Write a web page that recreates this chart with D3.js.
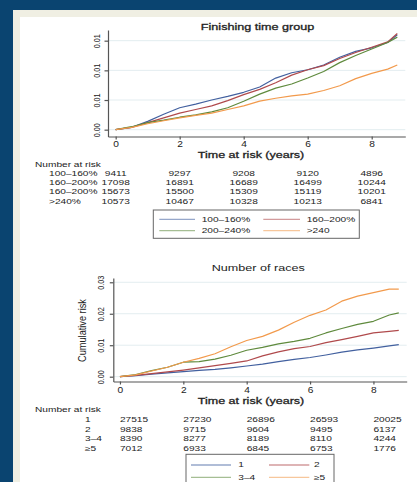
<!DOCTYPE html>
<html>
<head>
<meta charset="utf-8">
<script src="https://cdn.jsdelivr.net/npm/d3@7"></script>
<style>
  html, body { margin: 0; padding: 0; background: #0a4470; }
  svg { display: block; font-family: "Liberation Sans", Arial, sans-serif; }
</style>
</head>
<body>
<svg id="chart"></svg>
<script>
// time points (years) the curves were read at
const years = [0, 0.5, 1, 1.5, 2, 2.5, 3, 3.5, 4, 4.5, 5, 5.5, 6, 6.5, 7, 7.5, 8, 8.5, 8.8];

// Finishing time group, cumulative risk
const finish100 = [0, 0.0004, 0.0014, 0.0026, 0.0037, 0.0043, 0.0050, 0.0056, 0.0063, 0.0072, 0.0087, 0.0096, 0.0101, 0.0109, 0.0122, 0.0132, 0.0138, 0.0147, 0.0160];
const finish160 = [0, 0.0004, 0.0012, 0.0020, 0.0028, 0.0034, 0.0040, 0.0049, 0.0059, 0.0068, 0.0079, 0.0092, 0.0101, 0.0108, 0.0120, 0.0130, 0.0139, 0.0148, 0.0162];
const finish200 = [0, 0.0005, 0.0012, 0.0016, 0.0021, 0.0025, 0.0030, 0.0037, 0.0048, 0.0060, 0.0070, 0.0077, 0.0087, 0.0098, 0.0113, 0.0125, 0.0136, 0.0147, 0.0156];
const finish240 = [0, 0.0004, 0.0010, 0.0015, 0.0020, 0.0024, 0.0028, 0.0034, 0.0040, 0.0048, 0.0053, 0.0057, 0.0060, 0.0066, 0.0074, 0.0086, 0.0095, 0.0102, 0.0109];

// Number of races, cumulative risk
const races1 = [0, 0.0003, 0.0008, 0.0012, 0.0016, 0.0020, 0.0023, 0.0028, 0.0034, 0.0040, 0.0048, 0.0055, 0.0061, 0.0069, 0.0078, 0.0085, 0.0091, 0.0098, 0.0102];
const races2 = [0, 0.0004, 0.0010, 0.0015, 0.0021, 0.0028, 0.0035, 0.0042, 0.0050, 0.0066, 0.0079, 0.0089, 0.0096, 0.0108, 0.0118, 0.0128, 0.0139, 0.0144, 0.0147];
const races34 = [0, 0.0007, 0.0019, 0.0030, 0.0046, 0.0048, 0.0056, 0.0068, 0.0084, 0.0093, 0.0104, 0.0112, 0.0122, 0.0139, 0.0153, 0.0166, 0.0176, 0.0196, 0.0203];
const races5 = [0, 0.0006, 0.0018, 0.0030, 0.0046, 0.0058, 0.0073, 0.0095, 0.0115, 0.0128, 0.0148, 0.0173, 0.0195, 0.0212, 0.0240, 0.0256, 0.0267, 0.0278, 0.0278];

const xTicks = [0, 2, 4, 6, 8];
const topYTicks = [0, 0.005, 0.01, 0.015];
const botYTicks = [0, 0.01, 0.02, 0.03];

const finishLabels = ['100–160%', '160–200%', '200–240%', '>240'];
const finishRiskLabels = ['100–160%', '160–200%', '160–200%', '>240%'];
const finishRisk = [
  [9411, 9297, 9208, 9120, 4896],
  [17098, 16891, 16689, 16499, 10244],
  [15673, 15500, 15309, 15119, 10201],
  [10573, 10467, 10328, 10213, 6841]
];

const raceLabels = ['1', '2', '3–4', '≥5'];
const raceRisk = [
  [27515, 27230, 26896, 26593, 20025],
  [9838, 9715, 9604, 9495, 6137],
  [8390, 8277, 8189, 8110, 4244],
  [7012, 6933, 6845, 6753, 1776]
];

const colors = ['#42609f', '#b04a4c', '#5f8a3d', '#f29a4c'];

const W = 417, H = 482;
const svg = d3.select('#chart').attr('width', W).attr('height', H);

// frame: blue page, cream border, white panel
svg.append('rect').attr('width', W).attr('height', H).attr('fill', '#0a4470');
svg.append('rect').attr('x', 13).attr('y', 10).attr('width', W - 13).attr('height', H - 10).attr('fill', '#f0efe3');
svg.append('rect').attr('x', 20).attr('y', 17).attr('width', W - 20).attr('height', H - 17).attr('fill', '#fff');

const TXT = '#222';

// text helper: horizontal stretch like the source image
function label(g, x, y, str, o = {}) {
  return g.append('text')
    .attr('transform', `translate(${x},${y}) scale(${o.sx || 1.4},1)` + (o.rot ? ' rotate(-90)' : ''))
    .attr('text-anchor', o.anchor || 'start')
    .attr('dy', '0.35em')
    .attr('font-size', o.size || 7)
    .attr('fill', TXT)
    .attr('stroke', o.bold ? TXT : 'none')
    .attr('stroke-width', o.bold ? 0.3 : 0)
    .text(str);
}

function panel(cfg) {
  const g = svg.append('g');
  const x = d3.scaleLinear().domain(cfg.xDomain).range(cfg.xRange);
  const y = d3.scaleLinear().domain(cfg.yDomain).range(cfg.yRange);

  // gridlines
  g.selectAll('.grid')
    .data(cfg.yTicks)
    .join('line')
    .attr('x1', cfg.xRange[0]).attr('x2', cfg.xRange[1])
    .attr('y1', d => y(d)).attr('y2', d => y(d))
    .attr('stroke', '#e3edf0').attr('stroke-width', 1);

  // curves
  const line = d3.line().x((d, i) => x(years[i])).y(d => y(d));
  cfg.series.forEach((s, i) => {
    g.append('path')
      .attr('d', line(s))
      .attr('fill', 'none')
      .attr('stroke', colors[i])
      .attr('stroke-width', 1.2)
      .attr('stroke-linejoin', 'round');
  });

  // x axis
  const xa = g.append('g')
    .attr('transform', `translate(0,${cfg.yRange[0]})`)
    .call(d3.axisBottom(x).tickValues(xTicks).tickSize(3).tickSizeOuter(0).tickPadding(0));
  xa.selectAll('path, line').attr('stroke', '#555').attr('stroke-width', 1.2);
  xa.selectAll('text')
    .attr('y', cfg.xLabelDy).attr('dy', '0.35em')
    .attr('transform', 'scale(1.2,1)')
    .attr('font-size', 8.5).attr('fill', TXT)
    .attr('font-family', 'Liberation Sans, Arial, sans-serif');

  // y axis
  const ya = g.append('g')
    .attr('transform', `translate(${cfg.xRange[0]},0)`)
    .call(d3.axisLeft(y).tickValues(cfg.yTicks).tickFormat(d3.format('.2f')).tickSize(3.5).tickSizeOuter(0));
  ya.selectAll('path, line').attr('stroke', '#555').attr('stroke-width', 1.2);
  ya.selectAll('text')
    .attr('x', 0).attr('dy', '0.35em')
    .attr('text-anchor', 'middle')
    .attr('transform', `translate(${cfg.yLabelDx},0) scale(1.35,1) rotate(-90)`)
    .attr('font-size', 7.2).attr('fill', TXT)
    .attr('font-family', 'Liberation Sans, Arial, sans-serif');

  return { g, x, y };
}

function legend(cfg) {
  const g = svg.append('g');
  g.append('rect')
    .attr('x', cfg.box[0]).attr('y', cfg.box[1])
    .attr('width', cfg.box[2]).attr('height', cfg.box[3])
    .attr('fill', '#fff').attr('stroke', '#666').attr('stroke-width', 1);
  cfg.labels.forEach((name, i) => {
    const col = i % 2, row = Math.floor(i / 2);
    const ly = cfg.rows[row];
    const c = cfg.cols[col];
    g.append('line')
      .attr('x1', c[0]).attr('x2', c[1]).attr('y1', ly).attr('y2', ly)
      .attr('stroke', colors[i]).attr('stroke-width', 1.3).attr('opacity', 0.55);
    label(g, c[2], ly, name, { size: 7, sx: 1.45 });
  });
}

function riskTable(x, cfg) {
  const g = svg.append('g');
  label(g, 35, cfg.headY, 'Number at risk', { size: 7, sx: 1.45 });
  cfg.rowLabels.forEach((name, r) => {
    const ry = cfg.rowY[r];
    label(g, cfg.labelX, ry, name, { size: 7, sx: 1.45 });
    cfg.data[r].forEach((v, j) => {
      label(g, x(xTicks[j]) + cfg.shift, ry, v, { size: 7, sx: 1.45, anchor: cfg.anchor });
    });
  });
}

// ---- top: finishing time group
const topPanel = panel({
  xDomain: [-0.24, 9.05], xRange: [108, 405.3],
  yDomain: [-0.00115, 0.0168], yRange: [136.5, 30],
  yTicks: topYTicks,
  series: [finish100, finish160, finish200, finish240],
  xLabelDy: 8, yLabelDx: -11
});
label(svg, 257.5, 26.3, 'Finishing time group', { size: 9.2, sx: 1.37, anchor: 'middle', bold: true });
label(svg, 251, 154.5, 'Time at risk (years)', { size: 9.2, sx: 1.36, anchor: 'middle', bold: true });
riskTable(topPanel.x, {
  headY: 164.5, labelX: 49, rowY: [173.3, 182.5, 192, 201.7],
  rowLabels: finishRiskLabels, data: finishRisk, anchor: 'middle', shift: 0
});
legend({
  box: [153.3, 210, 206, 28.3], rows: [219.3, 230.7],
  cols: [[159.3, 195, 201.7], [263.3, 300, 306.7]],
  labels: finishLabels
});

// ---- bottom: number of races
const botPanel = panel({
  xDomain: [-0.21, 9.05], xRange: [113.3, 406.7],
  yDomain: [-0.00153, 0.03136], yRange: [381.5, 278],
  yTicks: botYTicks,
  series: [races1, races2, races34, races5],
  xLabelDy: 9, yLabelDx: -13
});
label(svg, 258.3, 268.3, 'Number of races', { size: 9, sx: 1.4, anchor: 'middle' });
label(svg, 251, 401, 'Time at risk (years)', { size: 9.2, sx: 1.36, anchor: 'middle', bold: true });
label(svg, 82, 330.5, 'Cumulative risk', { size: 9.2, sx: 1.1, anchor: 'middle', rot: true });
riskTable(botPanel.x, {
  headY: 409.5, labelX: 85, rowY: [419.2, 429.2, 438.5, 448.3],
  rowLabels: raceLabels, data: raceRisk, anchor: 'start', shift: 0
});
legend({
  box: [186, 454.3, 148, 40], rows: [465, 477.3],
  cols: [[191, 231, 238.3], [269, 309.3, 314]],
  labels: raceLabels
});
</script>
</body>
</html>
